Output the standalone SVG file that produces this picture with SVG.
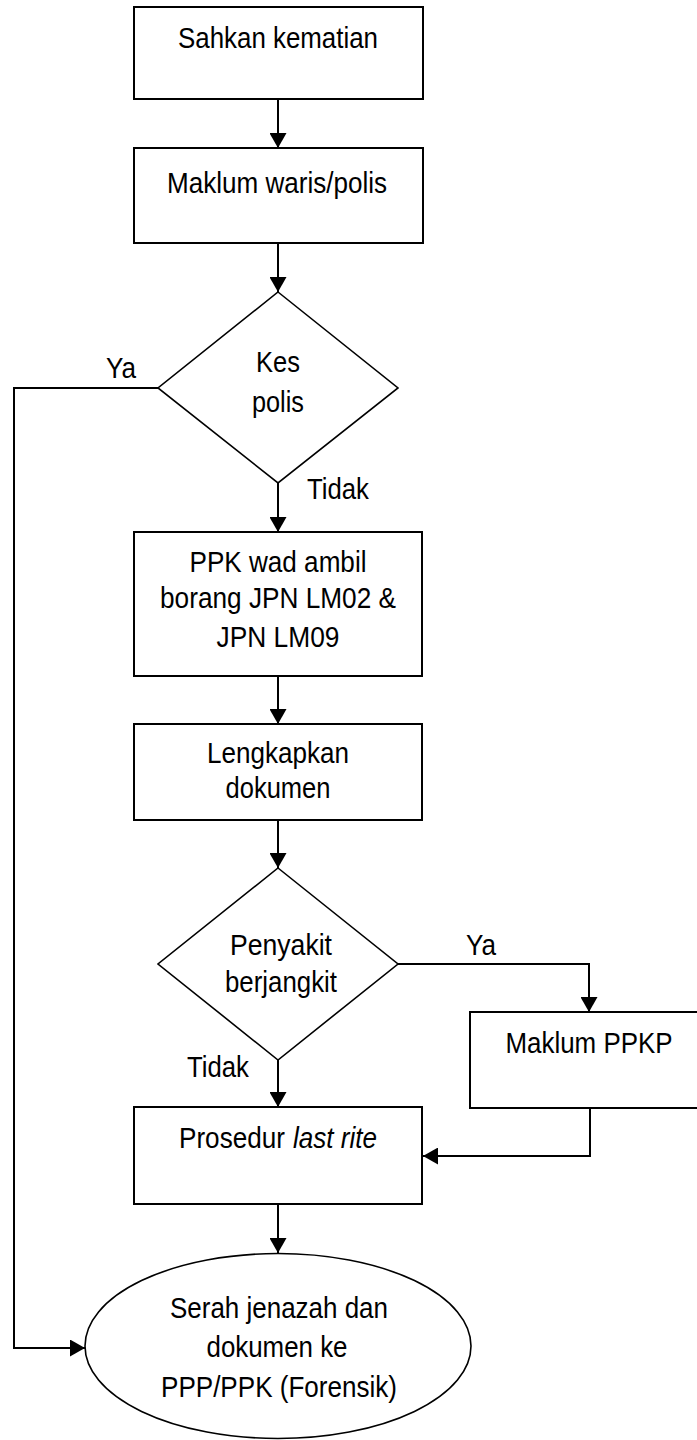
<svg xmlns="http://www.w3.org/2000/svg" width="697" height="1440" viewBox="0 0 697 1440">
<style>
.box{fill:#fff;stroke:#000;stroke-width:2}
.dia{fill:#fff;stroke:#000;stroke-width:1.6}
.conn{fill:none;stroke:#000;stroke-width:2}
text{font-family:"Liberation Sans",Arial,sans-serif;font-size:29px;fill:#000;text-anchor:middle}
.lbl{text-anchor:start}
.it{font-style:italic}
</style>
<defs>
<marker id="ah" markerUnits="userSpaceOnUse" markerWidth="16" markerHeight="17" refX="15" refY="8.5" orient="auto" viewBox="0 0 16 17">
<path d="M0,0 L15,8.5 L0,17 Z" fill="#000"/>
</marker>
</defs>
<rect width="697" height="1440" fill="#fff"/>
<g id="connectors">
<path class="conn" d="M278,99 V148" marker-end="url(#ah)"/>
<path class="conn" d="M278,243 V292" marker-end="url(#ah)"/>
<path class="conn" d="M278,483 V532" marker-end="url(#ah)"/>
<path class="conn" d="M278,676 V724" marker-end="url(#ah)"/>
<path class="conn" d="M278,820 V868" marker-end="url(#ah)"/>
<path class="conn" d="M278,1060 V1107" marker-end="url(#ah)"/>
<path class="conn" d="M278,1204 V1253" marker-end="url(#ah)"/>
<path class="conn" d="M158,388 H14 V1348 H85" marker-end="url(#ah)"/>
<path class="conn" d="M398,964 H589 V1012" marker-end="url(#ah)"/>
<path class="conn" d="M590,1108 V1156 H423" marker-end="url(#ah)"/>
<text class="lbl" x="106" y="378" textLength="30" lengthAdjust="spacingAndGlyphs">Ya</text>
<text class="lbl" x="307" y="499" textLength="62" lengthAdjust="spacingAndGlyphs">Tidak</text>
<text class="lbl" x="466" y="955" textLength="30" lengthAdjust="spacingAndGlyphs">Ya</text>
<text class="lbl" x="187" y="1077" textLength="62" lengthAdjust="spacingAndGlyphs">Tidak</text>
</g>
<g id="n1">
<rect class="box" x="134" y="7" width="289" height="92"/>
<text x="278" y="48" textLength="200" lengthAdjust="spacingAndGlyphs">Sahkan kematian</text>
</g>
<g id="n2">
<rect class="box" x="134" y="148" width="289" height="95"/>
<text x="277" y="193" textLength="220" lengthAdjust="spacingAndGlyphs">Maklum waris/polis</text>
</g>
<g id="d1">
<polygon class="dia" points="278,292 398,388 278,483 158,388"/>
<text x="278" y="372" textLength="44" lengthAdjust="spacingAndGlyphs">Kes</text>
<text x="278" y="412" textLength="52" lengthAdjust="spacingAndGlyphs">polis</text>
</g>
<g id="n3">
<rect class="box" x="134" y="532" width="288" height="144"/>
<text x="278" y="572" textLength="177" lengthAdjust="spacingAndGlyphs">PPK wad ambil</text>
<text x="278" y="608" textLength="236" lengthAdjust="spacingAndGlyphs">borang JPN LM02 &amp;</text>
<text x="278" y="647" textLength="123" lengthAdjust="spacingAndGlyphs">JPN LM09</text>
</g>
<g id="n4">
<rect class="box" x="134" y="724" width="288" height="96"/>
<text x="278" y="763" textLength="142" lengthAdjust="spacingAndGlyphs">Lengkapkan</text>
<text x="278" y="798" textLength="105" lengthAdjust="spacingAndGlyphs">dokumen</text>
</g>
<g id="d2">
<polygon class="dia" points="278,868 398,964 278,1060 158,964"/>
<text x="281" y="955" textLength="102" lengthAdjust="spacingAndGlyphs">Penyakit</text>
<text x="281" y="992" textLength="112" lengthAdjust="spacingAndGlyphs">berjangkit</text>
</g>
<g id="n5">
<rect class="box" x="470" y="1012" width="239" height="96"/>
<text x="589" y="1053" textLength="167" lengthAdjust="spacingAndGlyphs">Maklum PPKP</text>
</g>
<g id="n6">
<rect class="box" x="134" y="1107" width="288" height="97"/>
<text class="lbl" x="179" y="1148" textLength="106" lengthAdjust="spacingAndGlyphs">Prosedur</text>
<text class="lbl it" x="293" y="1148" textLength="84" lengthAdjust="spacingAndGlyphs">last rite</text>
</g>
<g id="n7">
<ellipse class="dia" cx="278" cy="1346" rx="193" ry="92.5"/>
<text x="279" y="1318" textLength="218" lengthAdjust="spacingAndGlyphs">Serah jenazah dan</text>
<text x="277" y="1357" textLength="141" lengthAdjust="spacingAndGlyphs">dokumen ke</text>
<text x="279" y="1397" textLength="236" lengthAdjust="spacingAndGlyphs">PPP/PPK (Forensik)</text>
</g>
</svg>
